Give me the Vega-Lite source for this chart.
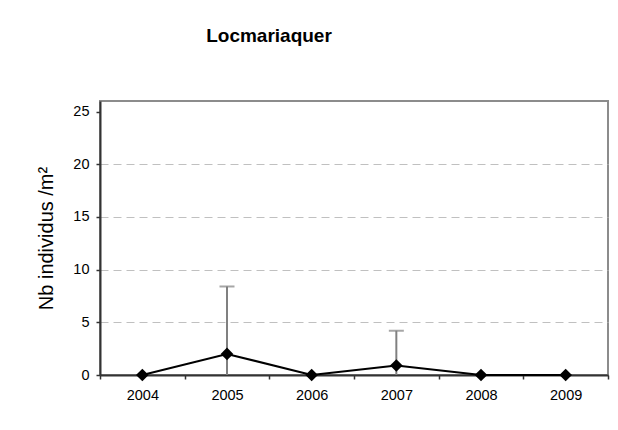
{
  "$schema": "https://vega.github.io/schema/vega-lite/v6.json",
  "width": 508,
  "height": 274,
  "autosize": {"type": "none"},
  "padding": {"left": 100, "top": 101, "right": 10, "bottom": 55},
  "background": "white",
  "title": {
    "text": "Locmariaquer",
    "font": "Liberation Sans",
    "fontSize": 19,
    "fontWeight": "bold",
    "color": "#000000",
    "anchor": "middle",
    "dx": -85,
    "offset": 55
  },
  "data": {
    "values": [
      {"year": "2004", "value": 0, "low": 0, "high": null},
      {"year": "2005", "value": 2, "low": 0, "high": 8.4},
      {"year": "2006", "value": 0, "low": 0, "high": null},
      {"year": "2007", "value": 0.9, "low": 0, "high": 4.2},
      {"year": "2008", "value": 0, "low": 0, "high": null},
      {"year": "2009", "value": 0, "low": 0, "high": null}
    ]
  },
  "encoding": {
    "x": {
      "field": "year",
      "type": "ordinal",
      "scale": {"paddingInner": 0, "paddingOuter": 0},
      "axis": {
        "title": null,
        "labelAngle": 0,
        "labelFont": "Liberation Sans",
        "labelFontSize": 14.5,
        "labelColor": "#000000",
        "labelPadding": 9,
        "tickBand": "extent",
        "tickSize": 4,
        "tickColor": "#333333",
        "tickWidth": 1.5,
        "domainColor": "#333333",
        "domainWidth": 2,
        "grid": false
      }
    }
  },
  "layer": [
    {
      "transform": [{"filter": "datum.high != null"}],
      "mark": {"type": "rule", "color": "#808080", "strokeWidth": 2},
      "encoding": {
        "y": {"field": "low", "type": "quantitative"},
        "y2": {"field": "high"}
      }
    },
    {
      "transform": [{"filter": "datum.high != null"}],
      "mark": {"type": "tick", "color": "#808080", "size": 15, "thickness": 2},
      "encoding": {
        "y": {"field": "high", "type": "quantitative"}
      }
    },
    {
      "mark": {"type": "line", "color": "#000000", "strokeWidth": 2},
      "encoding": {
        "y": {
          "field": "value",
          "type": "quantitative",
          "scale": {"domain": [0, 25]},
          "axis": {
            "title": "Nb individus /m²",
            "titleFont": "Liberation Sans",
            "titleFontSize": 20,
            "titleFontWeight": "normal",
            "titleColor": "#000000",
            "titlePadding": 16,
            "values": [0, 5, 10, 15, 20, 25],
            "labelFont": "Liberation Sans",
            "labelFontSize": 14.5,
            "labelColor": "#000000",
            "labelPadding": 7,
            "tickSize": 4,
            "tickColor": "#333333",
            "tickWidth": 1.5,
            "domainColor": "#333333",
            "domainWidth": 2,
            "grid": true,
            "gridColor": "#c0c0c0",
            "gridDash": [8, 5],
            "gridWidth": 1,
            "gridOpacity": {"condition": {"test": "datum.value === 0 || datum.value === 25", "value": 0}, "value": 1}
          }
        }
      }
    },
    {
      "mark": {"type": "point", "shape": "diamond", "filled": true, "color": "#000000", "size": 160, "opacity": 1},
      "encoding": {
        "y": {"field": "value", "type": "quantitative"}
      }
    }
  ],
  "config": {
    "view": {"stroke": "#8c8c8c", "strokeWidth": 2}
  }
}
